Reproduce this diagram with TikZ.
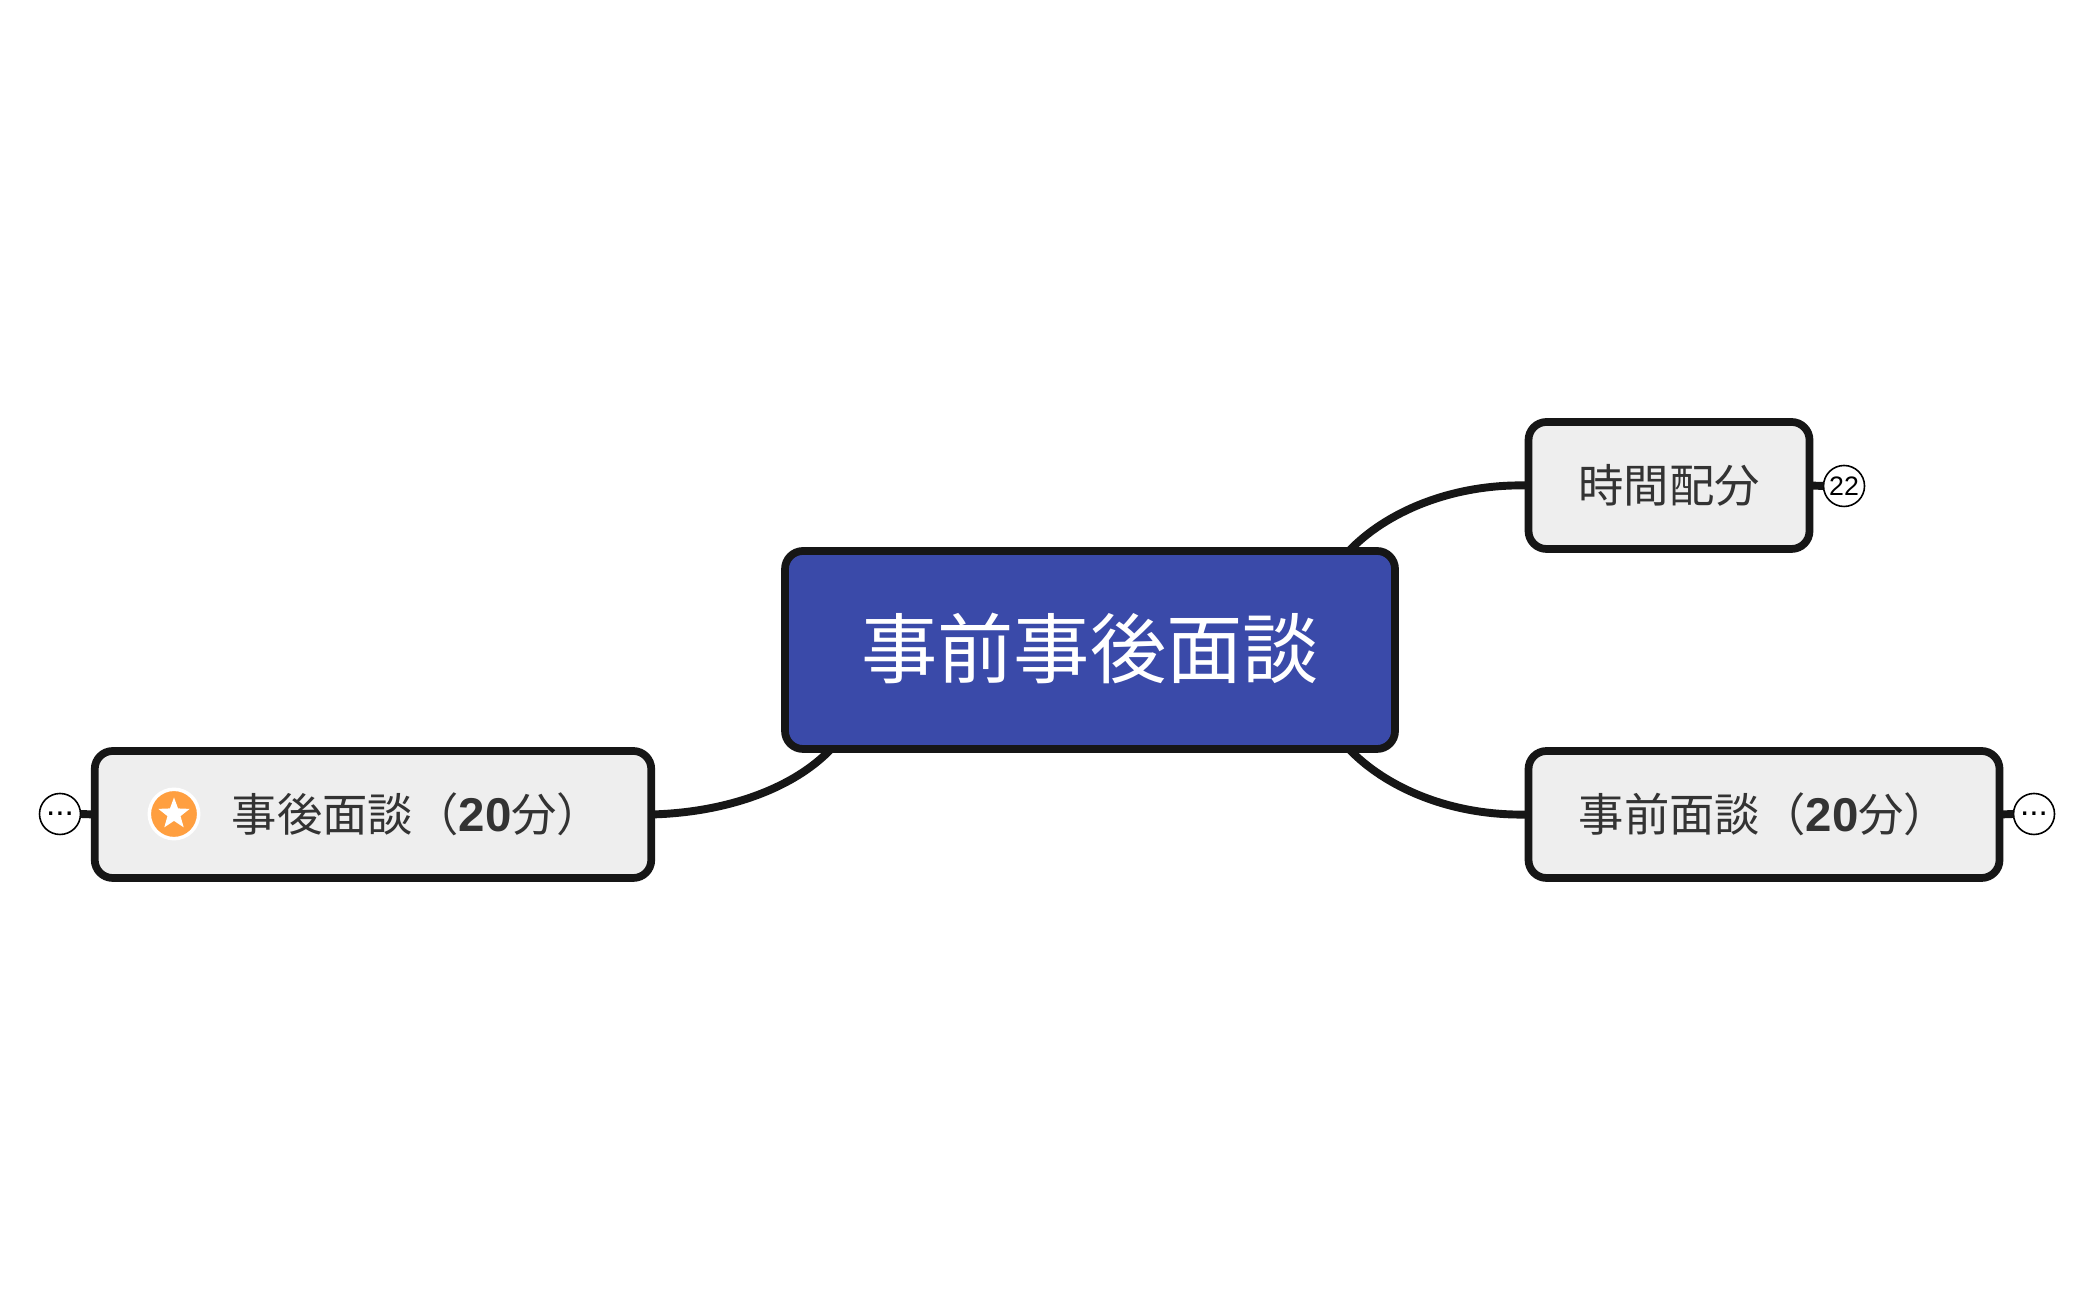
\documentclass[tikz,border=0pt]{standalone}
\usepackage{fontspec}
\setmainfont{Noto Sans CJK JP}
\newfontfamily\numfont{Liberation Sans}
\usetikzlibrary{shapes.geometric}
\definecolor{mainblue}{HTML}{3A4AA9}
\definecolor{boxgray}{HTML}{EEEEEE}
\definecolor{linedark}{HTML}{161616}
\definecolor{textdark}{HTML}{333333}
\definecolor{badgeorange}{HTML}{FF9F40}
\newcommand{\minutes}{{\numfont\bfseries\fontsize{13.5}{15}\selectfont 20}}
\tikzset{
  topicbox/.style={draw=linedark, line width=2.2pt, fill=boxgray, rounded corners=0.18cm, outer sep=0pt, inner sep=0pt, text=textdark, font=\fontsize{12.9}{15}\selectfont, minimum height=1.27cm},
  branch/.style={draw=linedark, line width=2.25pt},
  foldmark/.style={circle, draw=black, line width=0.45pt, fill=white, minimum size=0.41cm, inner sep=0pt, outer sep=0pt, text=black, font=\numfont\fontsize{7.6}{8}\selectfont}
}
\begin{document}
\begin{tikzpicture}[line join=round]
            \useasboundingbox (0,0) rectangle (20.94,13);
            \fill[white] (0,0) rectangle (20.94,13);
            \node[topicbox, fill=mainblue, text=white, font=\fontsize{21.7}{26}\selectfont, text height=17pt, text depth=1.4pt, minimum width=6.10cm, minimum height=1.98cm] (main) at (10.90,6.50) {事前事後面談};
            \node[topicbox, minimum width=2.81cm] (haibun) at (16.69,8.145) {時間配分};
            \node[topicbox, minimum width=4.71cm, text height=12pt, text depth=2.6pt] (jizen) at (17.64,4.855) {事前面談（\minutes 分）};
            \node[topicbox, minimum width=5.565cm, text height=12pt, text depth=2.6pt] (jigo) at (3.73,4.855) {\hspace*{0.88cm}事後面談（\minutes 分）};
            \node[foldmark] (haibunmore) at (18.44,8.14) {22};
            \node[foldmark, font=\numfont\fontsize{9.5}{10}\selectfont] (jizenmore) at (20.34,4.86) {...};
            \node[foldmark, font=\numfont\fontsize{9.5}{10}\selectfont] (jigomore) at (0.60,4.86) {...};
            \node[circle, fill=badgeorange, draw=white, line width=1pt, minimum size=0.494cm, inner sep=0pt] (badge) at (1.74,4.86) {};
            \node[star, star points=5, star point ratio=2.4, fill=white, minimum size=0.33cm, inner sep=0pt] (badgestar) at (badge) {};
            \draw[branch] ([xshift=-0.46cm]main.north east) .. controls +(0.36,0.38) and +(-0.78,0.02) .. (haibun.west);
            \draw[branch] ([xshift=-0.46cm]main.south east) .. controls +(0.36,-0.38) and +(-0.78,-0.02) .. (jizen.west);
            \draw[branch] ([xshift=0.46cm]main.south west) .. controls +(-0.36,-0.38) and +(0.78,0.02) .. (jigo.east);
            \draw[branch] (haibun.east) -- (haibunmore.west);
            \draw[branch] (jizen.east) -- (jizenmore.west);
            \draw[branch] (jigo.west) -- (jigomore.east);
\end{tikzpicture}
\end{document}
